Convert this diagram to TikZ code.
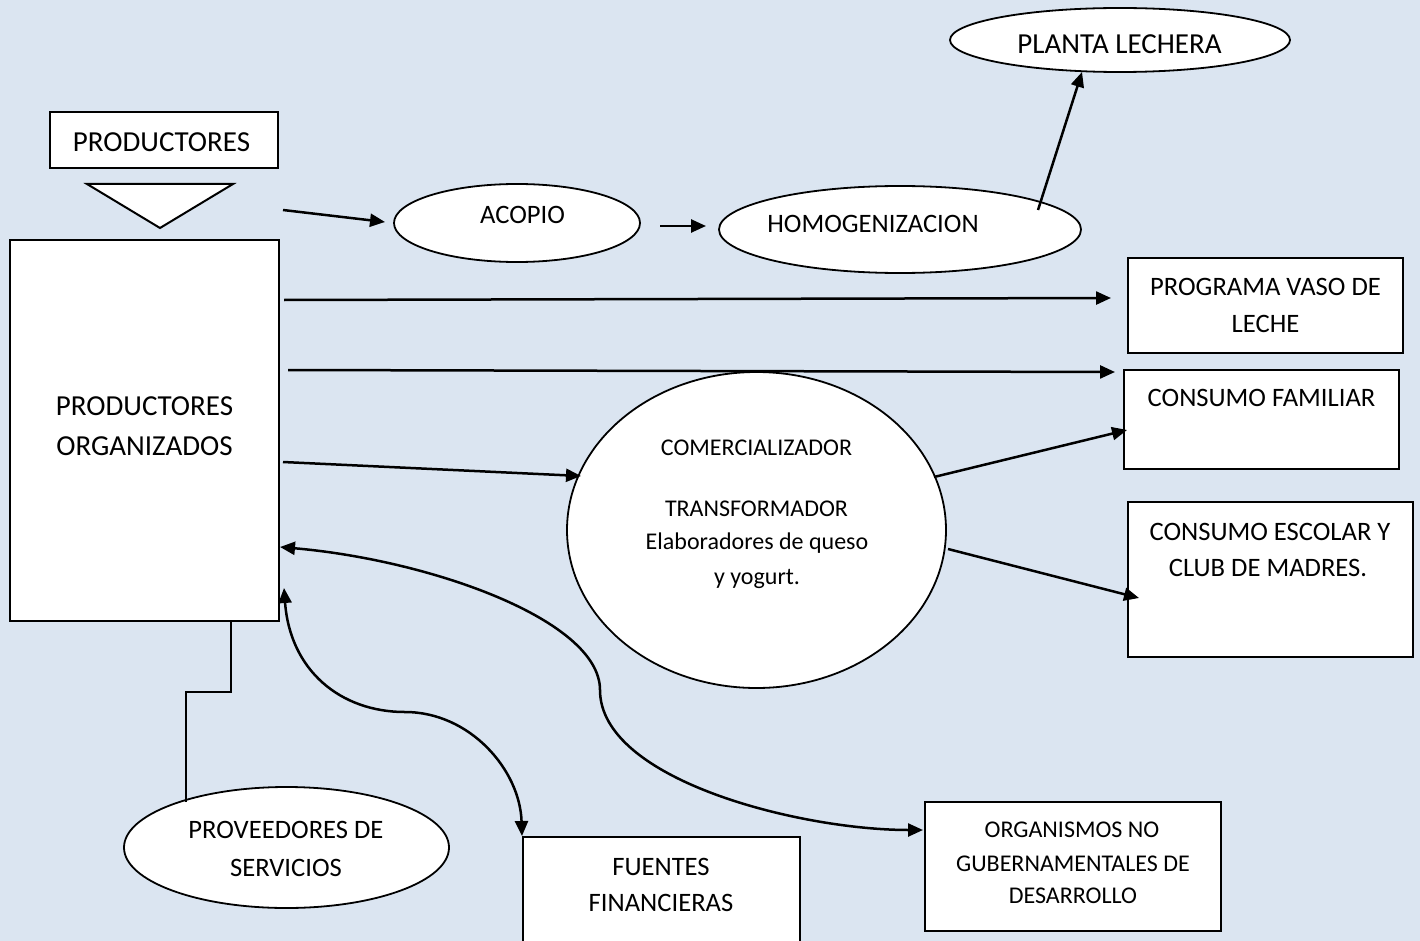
\documentclass[tikz,border=0pt]{standalone}
\usepackage{fontspec}
\setmainfont{Carlito}
\usetikzlibrary{shapes.geometric,arrows.meta}
\definecolor{bgblue}{HTML}{DBE5F1}
\begin{document}
\begin{tikzpicture}[x=1pt,y=-1pt,
  box/.style={draw=black,fill=white,line width=2pt,inner sep=0pt,minimum width=#1},
  oval/.style={draw=black,fill=white,ellipse,line width=1.8pt,inner sep=0pt},
  txtA/.style={inner sep=0pt,anchor=base,font=\fontsize{29}{34}\selectfont},
  txtB/.style={inner sep=0pt,anchor=base,font=\fontsize{26.6}{31}\selectfont},
  txtC/.style={inner sep=0pt,anchor=base,font=\fontsize{24}{29}\selectfont},
  arr/.style={line width=2.5pt,-{Triangle[length=15pt,width=13pt]}},
  darr/.style={line width=2.5pt,{Triangle[length=15pt,width=13pt]}-{Triangle[length=15pt,width=13pt]}},
  plain/.style={line width=2pt}]
\useasboundingbox (0,0) rectangle (1420,941);
\fill[bgblue] (0,0) rectangle (1420,941);

% shapes
\node[box=228pt,minimum height=56pt] (prod) at (164,140) {};
\draw[plain,fill=white] (87,184) -- (233,184) -- (160,228) -- cycle;
\node[box=269pt,minimum height=381pt] (org) at (144.5,430.5) {};
\node[oval,minimum width=246pt,minimum height=78pt] (acopio) at (517,223) {};
\node[oval,minimum width=362pt,minimum height=87pt] (homo) at (900,229.5) {};
\node[oval,minimum width=340pt,minimum height=64pt] (planta) at (1120,40) {};
\node[box=275pt,minimum height=95pt] (vaso) at (1265.5,305) {};
\node[box=275pt,minimum height=99pt] (fam) at (1261.5,419.5) {};
\node[oval,minimum width=379pt,minimum height=316pt] (comer) at (756.5,530) {};
\node[box=285pt,minimum height=155pt] (esc) at (1270.5,579.5) {};
\node[oval,minimum width=325pt,minimum height=121pt] (prov) at (286.5,847.5) {};
\node[box=277pt,minimum height=110pt] (fuentes) at (661.5,892) {};
\node[box=296pt,minimum height=129pt] (ong) at (1073,866.5) {};

% texts
\node[txtA] (tprod) at (161.5,152) {PRODUCTORES};
\node[txtA] (torg1) at (144.5,415) {PRODUCTORES};
\node[txtA] (torg2) at (144.5,455) {ORGANIZADOS};
\node[txtB] (tacopio) at (522.5,224) {ACOPIO};
\node[txtB] (thomo) at (873,233) {HOMOGENIZACION};
\node[txtA] (tplanta) at (1119.5,54) {PLANTA LECHERA};
\node[txtB] (tvaso1) at (1265.5,295) {PROGRAMA VASO DE};
\node[txtB] (tvaso2) at (1265.5,332) {LECHE};
\node[txtB] (tfam) at (1261.5,406) {CONSUMO FAMILIAR};
\node[txtB] (tesc1) at (1270,540) {CONSUMO ESCOLAR Y};
\node[txtB] (tesc2) at (1268,576) {CLUB DE MADRES.};
\node[txtC] (tcom1) at (756.5,455) {COMERCIALIZADOR};
\node[txtC] (tcom2) at (756.5,516) {TRANSFORMADOR};
\node[txtC] (tcom3) at (757,549) {Elaboradores de queso};
\node[txtC] (tcom4) at (757,584) {y yogurt.};
\node[txtC] (tong1) at (1072,837) {ORGANISMOS NO};
\node[txtC] (tong2) at (1073,871) {GUBERNAMENTALES DE};
\node[txtC] (tong3) at (1073,903) {DESARROLLO};
\node[txtB] (tprov1) at (286,838) {PROVEEDORES DE};
\node[txtB] (tprov2) at (286,876) {SERVICIOS};
\node[txtB] (tfue1) at (661,875) {FUENTES};
\node[txtB] (tfue2) at (661,911) {FINANCIERAS};

% connector anchor points
\coordinate (a1s) at (283,210);
\coordinate (a1e) at (385,222);
\coordinate (a2s) at (660,226);
\coordinate (a2e) at (706,226);
\coordinate (a3s) at (1038,210);
\coordinate (a3e) at (1082,72);
\coordinate (a4s) at (284,300);
\coordinate (a4e) at (1111,298);
\coordinate (a5s) at (288,370);
\coordinate (a5e) at (1115,372);
\coordinate (a6s) at (283,462);
\coordinate (a6e) at (581,476);
\coordinate (a7s) at (934,477);
\coordinate (a7e) at (1127,430);
\coordinate (a8s) at (948,549);
\coordinate (a8e) at (1139,598);
\coordinate (c1s) at (284,588);
\coordinate (c1m) at (405,712);
\coordinate (c1e) at (522,836);
\coordinate (c2s) at (280,547);
\coordinate (c2m) at (600,690);
\coordinate (c2e) at (923,830);

\draw[arr] (a1s) -- (a1e);
\draw[arr] (a2s) -- (a2e);
\draw[arr] (a3s) -- (a3e);
\draw[arr] (a4s) -- (a4e);
\draw[arr] (a5s) -- (a5e);
\draw[arr] (a6s) -- (a6e);
\draw[arr] (a7s) -- (a7e);
\draw[arr] (a8s) -- (a8e);
\draw[darr] (c1s) .. controls (290,670) and (340,712) .. (c1m) .. controls (470,712) and (520,770) .. (c1e);
\draw[darr] (c2s) .. controls (430,560) and (600,620) .. (c2m) .. controls (600,780) and (800,830) .. (c2e);
\draw[plain] (186,802) -- (186,692) -- (231,692) -- (231,621);
\end{tikzpicture}
\end{document}
